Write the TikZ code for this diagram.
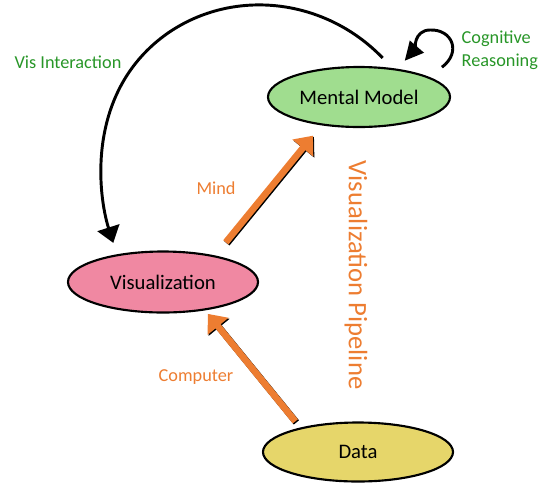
\documentclass[tikz,border=0pt]{standalone}
\usepackage{fontspec}
\setmainfont{Carlito}
\usetikzlibrary{arrows.meta,shapes.geometric}
\definecolor{mmfill}{RGB}{160,221,143}
\definecolor{visfill}{RGB}{240,136,162}
\definecolor{datafill}{RGB}{230,214,106}
\definecolor{flow}{RGB}{237,125,49}
\definecolor{labelgreen}{RGB}{40,150,40}
\begin{document}
\begin{tikzpicture}[x=0.75pt,y=-0.75pt,
  stage/.style={ellipse, draw=black, line width=1.6pt, inner sep=0pt,
    font=\fontsize{15.5}{18}\selectfont},
  flowline/.style={line width=5pt, -{Triangle[length=12pt,width=19.5pt]}},
  flowarrow/.style={flowline, draw=flow, fill=flow},
  flowshadow/.style={flowline, draw=black, fill=black,
    transform canvas={shift={(0.8pt,-0.8pt)}}},
  backarrow/.style={draw=black, line width=2.2pt, -{Triangle[length=12pt,width=17pt]}},
  looparrow/.style={draw=black, line width=2.2pt, -{Triangle[length=14pt,width=13.5pt]}},
  greenlabel/.style={text=labelgreen, font=\fontsize{13.7}{17.25}\selectfont},
  orangelabel/.style={text=flow, font=\fontsize{13.7}{17.25}\selectfont}]
\useasboundingbox (0,0) rectangle (539,483);

% stages of the pipeline
\node[stage, fill=mmfill, minimum width=136.5pt, minimum height=45pt] (mm) at (359,97) {Mental Model};
\node[stage, fill=visfill, minimum width=142.5pt, minimum height=45.75pt] (vis) at (163,282) {Visualization};
\node[stage, fill=datafill, minimum width=142.5pt, minimum height=44.25pt] (data) at (358,452) {Data};

% labels
\node[greenlabel] (lblinter) at (68,62) {Vis Interaction};
\node[greenlabel, align=left, anchor=west] (lblcog) at (457,50) {Cognitive\\Reasoning};
\node[orangelabel] (lblmind) at (216,188) {Mind};
\node[orangelabel] (lblcomp) at (196,377) {Computer};
\node[text=flow, font=\fontsize{20}{24}\selectfont, rotate=-90] (lblpipe) at (356,275) {Visualization Pipeline};

% pipeline arrows with a thin dark edge
\draw[flowshadow, shorten <=6pt, shorten >=3.4pt] (data.157) -- (vis.326);
\draw[flowarrow, shorten <=6pt, shorten >=3.4pt] (data.157) -- (vis.326);
\draw[flowshadow, shorten <=12.75pt, shorten >=10pt] (vis.27) -- (mm.217);
\draw[flowarrow, shorten <=12.75pt, shorten >=10pt] (vis.27) -- (mm.217);

% interaction arc back to the visualization
\draw[backarrow, shorten <=10.5pt, shorten >=9pt]
  (mm.41) .. controls (326,-1) and (235,-13) .. (168,33)
          .. controls (85,91) and (98,195) .. (vis.149);

% reasoning loop on the mental model
\draw[looparrow, shorten <=12pt, shorten >=8pt]
  (mm.16) .. controls (462,52) and (452,29) .. (430,30)
          .. controls (414,30) and (414,50) .. (mm.36);
\end{tikzpicture}
\end{document}
